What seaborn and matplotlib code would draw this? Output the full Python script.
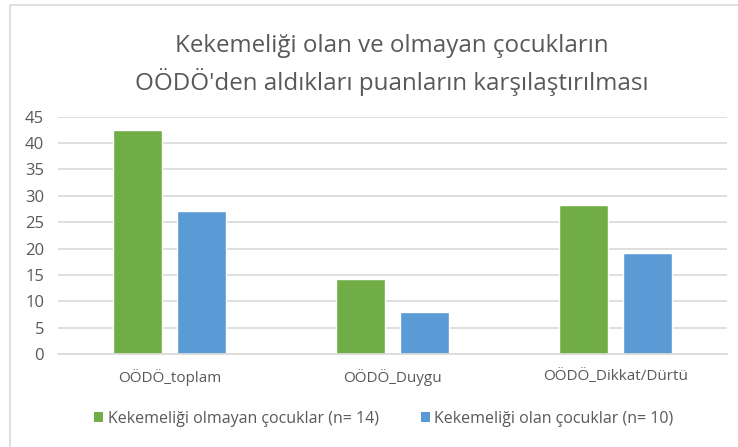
# Kekemeliği olan / olmayan çocukların OÖDÖ puanları - gruplu bar grafiği

import pandas as pd
import seaborn as sb
import matplotlib.pyplot as plt
from matplotlib.patches import Rectangle, Patch

# Data
categories = ["OÖDÖ_toplam", "OÖDÖ_Duygu", "OÖDÖ_Dikkat/Dürtü"]
series_names = ["Kekemeliği olmayan çocuklar (n= 14)", "Kekemeliği olan çocuklar (n= 10)"]
olmayan = [42.5, 14.3, 28.3]
olan = [27.2, 8.0, 19.2]
title_lines = ["Kekemeliği olan ve olmayan çocukların",
               "OÖDÖ'den aldıkları puanların karşılaştırılması"]
yticks = [0, 5, 10, 15, 20, 25, 30, 35, 40, 45]

colors = ["#70AD47", "#5B9BD5"]
text_grey = "#595959"
grid_grey = "#D9D9D9"

df = pd.DataFrame({
    "kategori": categories * 2,
    "grup": [series_names[0]] * 3 + [series_names[1]] * 3,
    "puan": olmayan + olan,
})

sb.set_theme(style="white")
plt.rcParams["font.family"] = ["Open Sans", "DejaVu Sans"]

fig = plt.figure(figsize=(7.38, 4.47), dpi=100)
ax = fig.add_axes([58 / 738, 1 - 354 / 447, (727 - 58) / 738, (354 - 116.7) / 447])

sb.barplot(data=df, x="kategori", y="puan", hue="grup", palette=colors,
           width=0.574, gap=0.22, ax=ax, legend=False, saturation=1)

# Axes styling (Excel look)
ax.set_ylim(0, 45)
ax.set_xlim(-0.5, 2.5)
ax.set_yticks(yticks)
ax.yaxis.grid(True, color=grid_grey, linewidth=1.2)
ax.set_axisbelow(True)
for s in ["top", "right", "left"]:
    ax.spines[s].set_visible(False)
ax.spines["bottom"].set_color(grid_grey)
ax.spines["bottom"].set_linewidth(1.2)
ax.set_xlabel("")
ax.set_ylabel("")
ax.tick_params(axis="y", length=0, pad=10, labelsize=12, labelcolor=text_grey)
ax.tick_params(axis="x", length=0, pad=11, labelsize=11, labelcolor=text_grey)

# Title
fig.text(392 / 738, 1 - 52 / 447, title_lines[0], ha="center", va="baseline",
         fontsize=17.4, color=text_grey)
fig.text(392 / 738, 1 - 90 / 447, title_lines[1], ha="center", va="baseline",
         fontsize=17.4, color=text_grey)

# Legend
handles = [Patch(facecolor=c, edgecolor="none") for c in colors]
fig.legend(handles, series_names, loc="center", bbox_to_anchor=(384 / 738, 1 - 419 / 447),
           ncol=2, frameon=False, fontsize=11.5, labelcolor=text_grey,
           handlelength=0.56, handleheight=0.56, handletextpad=0.3, columnspacing=2.6)

# Chart border
fig.patches.append(Rectangle((10 / 738, -0.1), 1.2, 0.1 + (447 - 5) / 447,
                             transform=fig.transFigure, fill=False,
                             edgecolor=grid_grey, linewidth=1.2))

fig.savefig("out.png", dpi=100, facecolor="white")
